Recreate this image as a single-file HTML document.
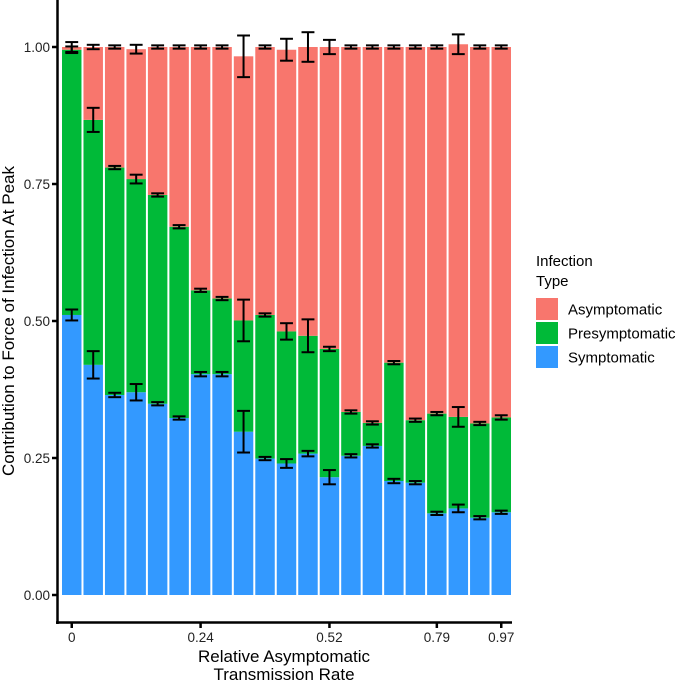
<!DOCTYPE html>
<html><head><meta charset="utf-8"><style>
body{margin:0;background:#fff;}
svg{display:block;font-family:"Liberation Sans",Arial,sans-serif;}
</style></head><body>
<svg id="chart" width="677" height="684" viewBox="0 0 677 684">
<g id="bars"></g>
<g id="errs"></g>
<g id="axes"></g>
<text x="14" y="321" transform="rotate(-90 14 321)" text-anchor="middle" font-size="17" fill="#000">Contribution to  Force of Infection At Peak</text>
<text x="284" y="662" text-anchor="middle" font-size="17" fill="#000">Relative Asymptomatic</text>
<text x="284" y="680" text-anchor="middle" font-size="17" fill="#000">Transmission Rate</text>
<g>
<text x="536" y="266" font-size="15">Infection</text>
<text x="536" y="286" font-size="15"> Type</text>
<rect x="536" y="298" width="22" height="22" fill="#F8766D"/>
<text x="568" y="314.5" font-size="15">Asymptomatic</text>
<rect x="536" y="322" width="22" height="22" fill="#00BA38"/>
<text x="568" y="338.5" font-size="15">Presymptomatic</text>
<rect x="536" y="346" width="22" height="22" fill="#3399FF"/>
<text x="568" y="362.5" font-size="15">Symptomatic</text>
</g>
</svg>
<script>
const categories = ["0","0.04","0.08","0.12","0.16","0.2","0.24","0.29","0.33","0.38","0.43","0.47","0.52","0.57","0.61","0.66","0.7","0.79","0.83","0.88","0.97"];
const tickLabels = ["0","0.24","0.52","0.79","0.97"];
const symptomatic = [0.511,0.42,0.365,0.37,0.349,0.323,0.403,0.403,0.298,0.249,0.24,0.258,0.215,0.254,0.272,0.208,0.205,0.149,0.158,0.141,0.151];
const presymptomatic = [0.484,0.447,0.415,0.389,0.381,0.349,0.153,0.138,0.203,0.262,0.241,0.215,0.234,0.08,0.042,0.216,0.114,0.182,0.167,0.172,0.173];
const asymptomatic = [0.005,0.133,0.22,0.237,0.27,0.328,0.444,0.459,0.482,0.489,0.514,0.527,0.551,0.666,0.686,0.576,0.681,0.669,0.68,0.687,0.676];
const errS = [0.01,0.025,0.004,0.015,0.003,0.003,0.004,0.004,0.038,0.003,0.008,0.005,0.013,0.003,0.003,0.004,0.003,0.003,0.007,0.003,0.003];
const errP = [0.006,0.022,0.003,0.008,0.003,0.003,0.003,0.003,0.038,0.003,0.015,0.03,0.004,0.003,0.003,0.003,0.003,0.003,0.018,0.003,0.004];
const errA = [0.009,0.004,0.003,0.008,0.003,0.003,0.003,0.003,0.038,0.003,0.02,0.027,0.013,0.003,0.003,0.003,0.003,0.003,0.018,0.003,0.003];
const yTicks = [0,0.25,0.5,0.75,1.0];

const NS="http://www.w3.org/2000/svg";
const X0=61, X1=512, Y0=595, Y1=47;
const step=(X1-X0)/categories.length;
function xPos(i){return X0+i*step;}
function yPos(v){return Y0-(Y0-Y1)*v;}
function mk(tag,attrs,parent){const e=document.createElementNS(NS,tag);for(const k in attrs)e.setAttribute(k,attrs[k]);parent.appendChild(e);return e;}
const gb=document.getElementById('bars'), ge=document.getElementById('errs'), ga=document.getElementById('axes');
const series=[[symptomatic,'#3399FF','symptomatic',errS],[presymptomatic,'#00BA38','presymptomatic',errP],[asymptomatic,'#F8766D','asymptomatic',errA]];
categories.forEach((c,i)=>{
  let base=0;
  series.forEach(s=>{
    const v=s[0][i], top=base+v;
    const r=mk('rect',{x:xPos(i)+1,y:yPos(top),width:step-2,height:yPos(base)-yPos(top),fill:s[1]},gb);
    
    
    const e=s[3][i], cx=xPos(i)+step/2, hw=step*0.3;
    const g=mk('g',{stroke:'#000','stroke-width':2},ge);
    
    
    mk('line',{x1:cx,x2:cx,y1:yPos(top+e),y2:yPos(top-e)},g);
    mk('line',{x1:cx-hw,x2:cx+hw,y1:yPos(top+e),y2:yPos(top+e)},g);
    mk('line',{x1:cx-hw,x2:cx+hw,y1:yPos(top-e),y2:yPos(top-e)},g);
    base=top;
  });
});
const ax=mk('line',{x1:57.5,x2:57.5,y1:0,y2:624,stroke:'#000','stroke-width':2.5},ga);


const bx=mk('line',{x1:56,x2:X1,y1:622.5,y2:622.5,stroke:'#000','stroke-width':2.5},ga);


yTicks.forEach(t=>{
  const y=yPos(t);
  const l=mk('line',{x1:52,x2:57,y1:y,y2:y,stroke:'#000','stroke-width':2.5},ga);
  
  
  const tx=mk('text',{x:50,y:y+5,'text-anchor':'end','font-size':13.5,fill:'#222'},ga);
  tx.textContent=t.toFixed(2);
  
  
});
categories.forEach((c,i)=>{
  if(tickLabels.indexOf(c)<0)return;
  const x=xPos(i)+step/2;
  const l=mk('line',{x1:x,x2:x,y1:623,y2:628,stroke:'#000','stroke-width':2.5},ga);
  
  
  const tx=mk('text',{x:x,y:642,'text-anchor':'middle','font-size':13.5,fill:'#222'},ga);
  tx.textContent=c;
  
  
});
</script>
</body></html>
